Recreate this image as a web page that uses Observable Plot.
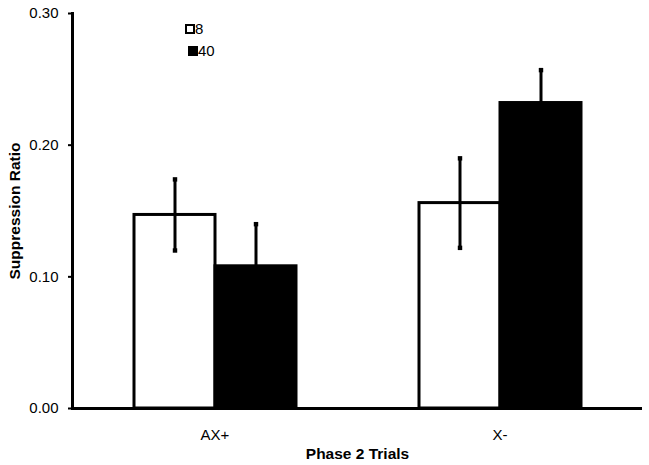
<!DOCTYPE html>
<html>
<head>
<meta charset="utf-8">
<script src="https://cdn.jsdelivr.net/npm/d3@7"></script>
<script src="https://cdn.jsdelivr.net/npm/@observablehq/plot@0.6"></script>
<style>
  html, body { margin: 0; padding: 0; background: white; }
  #wrap { position: relative; width: 649px; height: 465px; font-family: "Liberation Sans", Arial, sans-serif; }
  #legend { position: absolute; left: 185px; top: 18px; font-size: 15px; line-height: 22px; }
  #legend .row { display: flex; align-items: center; }
  #legend .sw { width: 10px; height: 10px; box-sizing: border-box; border: 2px solid black; margin-right: 0px; }
</style>
</head>
<body>
<div id="wrap"></div>
<script>
const categories = ["AX+", "X-"];
const series = ["8", "40"];
const means8 = [0.147, 0.156];
const means40 = [0.108, 0.232];
const se8 = [0.027, 0.034];
const se40 = [0.032, 0.025];
const yTicks = [0, 0.1, 0.2, 0.3];
const fills = ["white", "black"];

const rows = [];
categories.forEach((c, i) => {
  rows.push({cat: c, series: "8", mean: means8[i], lo: means8[i] - se8[i], hi: means8[i] + se8[i]});
  rows.push({cat: c, series: "40", mean: means40[i], lo: means40[i] - se40[i], hi: means40[i] + se40[i]});
});

const chart = Plot.plot({
  width: 649,
  height: 465,
  marginLeft: 72,
  marginRight: 7,
  marginTop: 13,
  marginBottom: 57,
  style: {fontFamily: "'Liberation Sans', Arial, sans-serif", fontSize: "15px", background: "white", color: "black"},
  fx: {domain: categories, padding: 0},
  x: {domain: series, paddingInner: 0, paddingOuter: 0.738, axis: null},
  y: {domain: [0, 0.3]},
  color: {domain: series, range: fills},
  marks: [
    Plot.barY(rows, {fx: "cat", x: "series", y: "mean", fill: "series", stroke: "black", strokeWidth: 3}),
    Plot.ruleX(rows, {fx: "cat", x: "series", y1: "lo", y2: "hi", stroke: "black", strokeWidth: 3}),
    Plot.dot(rows, {fx: "cat", x: "series", y: "hi", symbol: "square", r: 2.5, fill: "black"}),
    Plot.dot(rows, {fx: "cat", x: "series", y: "lo", symbol: "square", r: 2.5, fill: "black"}),
    Plot.ruleY([0], {stroke: "black", strokeWidth: 3}),
    Plot.frame({anchor: "left", facetAnchor: "left", stroke: "black", strokeWidth: 3}),
    Plot.axisFx({anchor: "bottom", tickSize: 0, tickPadding: 21, fontSize: 15,
      label: "Phase 2 Trials", labelAnchor: "center", labelOffset: 50, labelArrow: "none"}),
    Plot.axisY({ticks: yTicks, tickFormat: d3.format(".2f"), tickSize: 4, tickPadding: 10, strokeWidth: 2, fontSize: 15,
      label: "Suppression Ratio", labelAnchor: "center", labelOffset: 64, labelArrow: "none"})
  ]
});

// Bold axis titles
chart.querySelectorAll('g[aria-label="fx-axis label"] text, g[aria-label="y-axis label"] text').forEach(t => {
  t.setAttribute("font-weight", "bold");
  t.setAttribute("font-size", "15.5");
});

const wrap = document.getElementById("wrap");
wrap.appendChild(chart);

const legend = document.createElement("div");
legend.id = "legend";
series.forEach((s, i) => {
  const row = document.createElement("div");
  row.className = "row";
  if (i === 1) row.style.marginLeft = "3px";
  const sw = document.createElement("div");
  sw.className = "sw";
  sw.style.background = fills[i];
  const label = document.createElement("span");
  label.textContent = s;
  row.appendChild(sw);
  row.appendChild(label);
  legend.appendChild(row);
});
wrap.appendChild(legend);
</script>
</body>
</html>
